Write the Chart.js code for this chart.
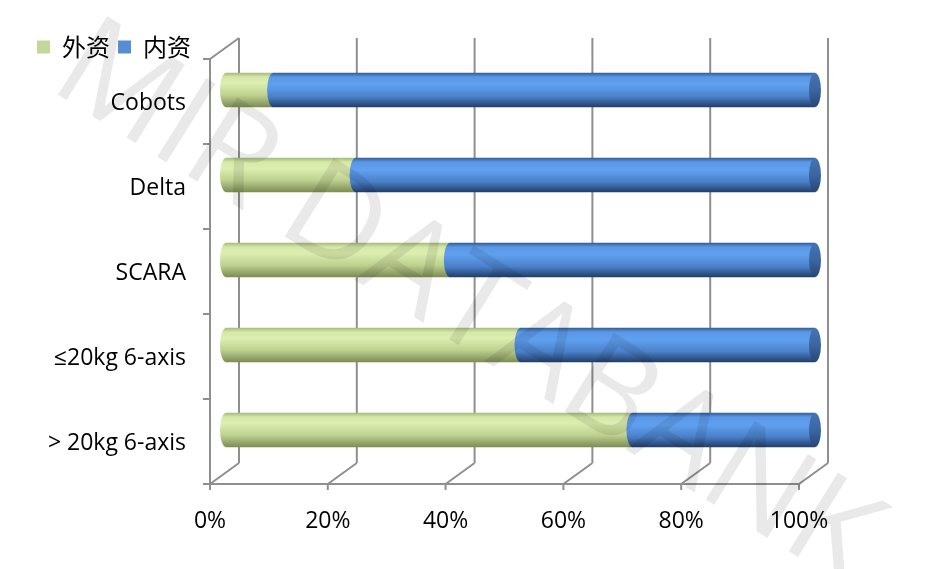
<!DOCTYPE html>
<html lang="zh">
<head>
<meta charset="UTF-8">
<title>外资 / 内资</title>
<script src="https://cdn.jsdelivr.net/npm/chart.js@4"></script>
<style>
    html, body { margin: 0; padding: 0; background: #fff; }
    canvas { display: block; }
</style>
</head>
<body>
<canvas id="chart" width="929" height="569"></canvas>
<script>
    // data
    const categories = ['Cobots', 'Delta', 'SCARA', '≤20kg 6-axis', '> 20kg 6-axis'];
    const seriesNames = ['外资', '内资'];
    const foreignShare = [8, 22, 38, 50, 69];
    const domesticShare = [92, 78, 62, 50, 31];
    const xTicks = [0, 20, 40, 60, 80, 100];

    // 3D look
    const DX = 29, DY = -21;        // depth of the walls
    const BX = 16, BY = -11.5;      // bars sit half way into the depth
    const BAR_H = 34, RX = 6;
    const FRAME = '#8f8f8f';

    const greenStops = [[0, '#a9ba7c'], [0.12, '#d6e8a8'], [0.3, '#ddefb0'], [0.65, '#bfd190'], [1, '#7d8d55']];
    const blueStops = [[0, '#345f9a'], [0.12, '#5a98e6'], [0.35, '#60a0f0'], [0.7, '#4a80c8'], [1, '#233f6a']];
    const capStops = [[0, '#4574b0'], [0.5, '#3a66a2'], [1, '#274775']];

    function cylinder(stops) {
        return (c) => {
            const ch = c.chart;
            const ys = ch.scales && ch.scales.y;
            if (!ch.chartArea || !ys) return stops[2][1];
            const yc = ys.getPixelForValue(c.dataIndex);
            const g = ch.ctx.createLinearGradient(0, yc - BAR_H / 2, 0, yc + BAR_H / 2);
            stops.forEach(s => g.addColorStop(s[0], s[1]));
            return g;
        };
    }

    const frame3d = {
        id: 'frame3d',
        beforeLayout(chart) {
            const lg = chart.legend;
            if (lg && !lg._fixed) {
                const fit = lg.fit;
                lg.fit = function () { fit.call(this); this.height = 32; };
                lg._fixed = true;
            }
        },
        beforeDatasetsDraw(chart) {
            const ctx = chart.ctx;
            const xs = chart.scales.x, ys = chart.scales.y;
            const {top, bottom, left} = chart.chartArea;
            ctx.save();
            ctx.strokeStyle = FRAME;
            ctx.lineWidth = 2;
            ctx.beginPath();
            xTicks.forEach(v => {
                const x = xs.getPixelForValue(v);
                // back wall
                ctx.moveTo(x + DX, top + DY);
                ctx.lineTo(x + DX, bottom + DY);
                // floor
                ctx.moveTo(x, bottom);
                ctx.lineTo(x + DX, bottom + DY);
                // tick mark
                ctx.moveTo(x, bottom);
                ctx.lineTo(x, bottom + 6);
            });
            ctx.moveTo(left - 7, bottom);
            ctx.lineTo(xs.getPixelForValue(100), bottom);
            ctx.moveTo(left, top);
            ctx.lineTo(left, bottom);
            ctx.moveTo(left, top);
            ctx.lineTo(left + DX, top + DY);
            const band = ys.getPixelForValue(1) - ys.getPixelForValue(0);
            for (let i = 0; i <= categories.length; i++) {
                const y = ys.getPixelForValue(i) - band / 2;
                ctx.moveTo(left - 7, y);
                ctx.lineTo(left, y);
            }
            ctx.stroke();
            ctx.restore();

            ctx.save();
            ctx.translate(BX, BY);
        },
        afterDatasetsDraw(chart) {
            const ctx = chart.ctx;
            const last = chart.data.datasets.length - 1;
            chart.data.datasets.forEach((ds, di) => {
                chart.getDatasetMeta(di).data.forEach(bar => {
                    const p = bar.getProps(['x', 'y', 'base', 'height'], true);
                    const start = Math.min(p.x, p.base);
                    const h = p.height / 2;
                    ctx.beginPath();
                    ctx.ellipse(start, p.y, RX, h, 0, Math.PI / 2, Math.PI * 1.5);
                    ctx.lineTo(start + 2, p.y - h);
                    ctx.lineTo(start + 2, p.y + h);
                    ctx.closePath();
                    ctx.fillStyle = bar.options.backgroundColor;
                    ctx.fill();
                    if (di === last) {
                        const end = Math.max(p.x, p.base);
                        const g = ctx.createLinearGradient(0, p.y - h, 0, p.y + h);
                        capStops.forEach(s => g.addColorStop(s[0], s[1]));
                        ctx.beginPath();
                        ctx.ellipse(end, p.y, RX, h, 0, 0, Math.PI * 2);
                        ctx.fillStyle = g;
                        ctx.fill();
                    }
                });
            });
            ctx.restore();
        },
        afterDraw(chart) {
            // watermark
            const ctx = chart.ctx;
            ctx.save();
            ctx.translate(466, 306);
            ctx.rotate(32 * Math.PI / 180);
            ctx.font = '400 130px "Open Sans", "DejaVu Sans", sans-serif';
            ctx.fillStyle = 'rgba(0, 0, 0, 0.085)';
            ctx.textAlign = 'center';
            ctx.textBaseline = 'middle';
            ctx.fillText('MIR DATABANK', 0, 0);
            ctx.restore();
        }
    };

    const legendColors = ['#c4d79b', '#558ed5'];

    new Chart(document.getElementById('chart'), {
        type: 'bar',
        data: {
            labels: categories,
            datasets: [
                { label: seriesNames[0], data: foreignShare, backgroundColor: cylinder(greenStops), borderWidth: 0, barThickness: BAR_H, clip: false },
                { label: seriesNames[1], data: domesticShare, backgroundColor: cylinder(blueStops), borderWidth: 0, barThickness: BAR_H, clip: false }
            ]
        },
        options: {
            indexAxis: 'y',
            responsive: false,
            animation: false,
            layout: { padding: { left: 29, top: 27, right: 130, bottom: 0 } },
            scales: {
                x: {
                    stacked: true,
                    min: 0,
                    max: 100,
                    afterFit: s => { s.height = 85; },
                    afterBuildTicks: s => { s.ticks = xTicks.map(v => ({ value: v })); },
                    ticks: {
                        callback: v => v + '%',
                        color: '#000',
                        padding: 16,
                        maxRotation: 0,
                        font: { family: '"Open Sans", sans-serif', size: 23 }
                    },
                    grid: { display: false },
                    border: { display: false }
                },
                y: {
                    stacked: true,
                    afterFit: s => { s.width = 181; },
                    ticks: {
                        color: '#000',
                        padding: 16,
                        labelOffset: 2,
                        font: { family: '"Open Sans", sans-serif', size: 23 }
                    },
                    grid: { display: false },
                    border: { display: false }
                }
            },
            plugins: {
                tooltip: { enabled: false },
                legend: {
                    position: 'top',
                    align: 'start',
                    labels: {
                        boxWidth: 13,
                        boxHeight: 13,
                        padding: 8,
                        color: '#000',
                        font: { family: '"Noto Sans CJK SC", sans-serif', size: 24 },
                        generateLabels: chart => chart.data.datasets.map((ds, i) => ({
                            text: ds.label,
                            fillStyle: legendColors[i],
                            strokeStyle: legendColors[i],
                            lineWidth: 0,
                            datasetIndex: i,
                            hidden: false
                        }))
                    }
                }
            }
        },
        plugins: [frame3d]
    });
</script>
</body>
</html>
